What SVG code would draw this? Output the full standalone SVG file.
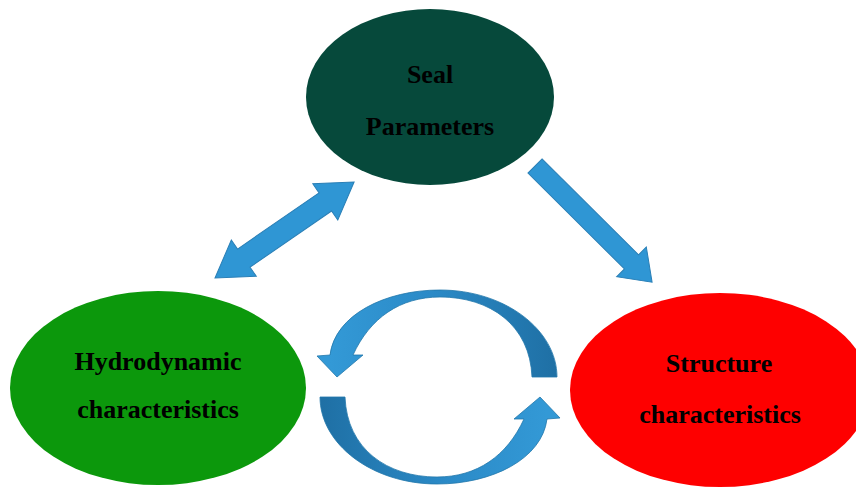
<svg xmlns="http://www.w3.org/2000/svg" width="856" height="488" viewBox="0 0 856 488">
  <defs>
    <linearGradient id="cg" gradientUnits="userSpaceOnUse" x1="330" y1="330" x2="555" y2="330">
      <stop offset="0" stop-color="#3399d6"/>
      <stop offset="0.45" stop-color="#2b8ac7"/>
      <stop offset="1" stop-color="#1f70a5"/>
    </linearGradient>
  </defs>
  <style>
    .lbl { font-family: "Liberation Serif", "Times New Roman", serif; font-weight: bold; font-size: 26px; fill: #000; text-anchor: middle; }
    .arr { fill: #2f96d4; stroke: #2a7fb6; stroke-width: 1; }
    .circ { fill: url(#cg); stroke: #2277ab; stroke-width: 0.8; }
  </style>
  <rect width="856" height="488" fill="#ffffff"/>

  <g id="seal-parameters">
    <ellipse cx="430" cy="97" rx="124" ry="88" fill="#06493b"/>
    <text class="lbl" x="430" y="83">Seal</text>
    <text class="lbl" x="430" y="135">Parameters</text>
  </g>

  <g id="hydrodynamic">
    <ellipse cx="158" cy="388" rx="148" ry="97" fill="#0c980c"/>
    <text class="lbl" x="158" y="370">Hydrodynamic</text>
    <text class="lbl" x="158" y="418">characteristics</text>
  </g>

  <g id="structure">
    <ellipse cx="720" cy="390" rx="150" ry="97" fill="#fe0000"/>
    <text class="lbl" x="719" y="372">Structure</text>
    <text class="lbl" x="720" y="423">characteristics</text>
  </g>

  <g id="connectors">
    <path class="arr" transform="translate(215,278) rotate(-34.6)" d="M0,0 L35,-22 L35,-11 L134,-11 L134,-22 L169,0 L134,22 L134,11 L35,11 L35,22 Z"/>
    <path class="arr" transform="translate(535,166) rotate(44.8)" d="M0,-10 L136,-10 L136,-21 L165,0 L136,21 L136,10 L0,10 Z"/>
    <path class="circ" d="M557,377 C557,330 505,290 440,290 C385,290 335,315 330,355 L317,356 L337,377 L363,355 L353,355 C370,318 400,297 440,297 C490,297 530,325 532,377 Z"/>
    <path class="circ" transform="rotate(180,438.5,387)" d="M557,377 C557,330 505,290 440,290 C385,290 335,315 330,355 L317,356 L337,377 L363,355 L353,355 C370,318 400,297 440,297 C490,297 530,325 532,377 Z"/>
  </g>
</svg>
